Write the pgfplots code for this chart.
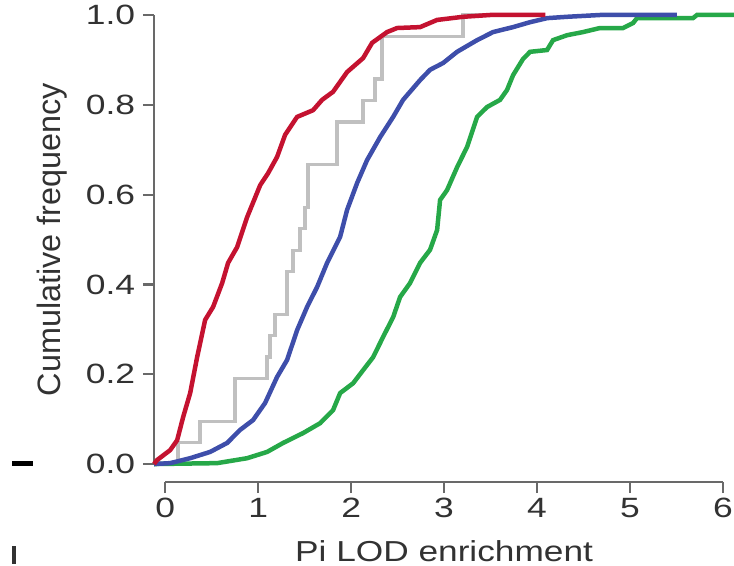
\documentclass[border=0pt]{standalone}
\usepackage{fontspec}
\setmainfont{Liberation Sans}
\usepackage{pgfplots}
\pgfplotsset{compat=1.18}
\definecolor{cred}{RGB}{196,18,48}
\definecolor{cblue}{RGB}{62,78,170}
\definecolor{cgreen}{RGB}{38,168,72}
\definecolor{cgray}{RGB}{192,192,192}
\definecolor{axgray}{RGB}{105,105,105}
\definecolor{txt}{RGB}{50,50,50}
\begin{document}
\begin{tikzpicture}
\begin{axis}[
  at={(0,0)}, anchor=south west,
  scale only axis, width=569bp, height=467bp,
  xmin=-0.12, xmax=6, ymin=-0.04, ymax=1,
  axis lines=left, axis line style={draw=none},
  clip=false,
  xtick={0,1,2,3,4,5,6},
  ytick={0,0.2,0.4,0.6,0.8,1.0},
  tick align=outside, major tick length=11bp,
  tick style={axgray, line width=2.2bp},
  /pgf/number format/assume math mode=true,
  ticklabel style={font=\fontsize{28}{30}\selectfont, text=txt, inner sep=0pt, xscale=1.27},
  xticklabel style={anchor=north, yshift=-5bp},
  yticklabel style={anchor=east, xshift=-6bp,
    /pgf/number format/.cd, fixed, fixed zerofill, precision=1},
]
% axis lines (range frame)
\draw[axgray, line width=2.2bp] (axis cs:-0.12,0) -- (axis cs:-0.12,1);
\draw[axgray, line width=2.2bp] (axis cs:0,-0.04) -- (axis cs:6,-0.04);

% gray step curve
\addplot[const plot, cgray, line width=3.5bp] coordinates {
(-0.12,0) (0.14,0.0476) (0.376,0.095) (0.753,0.190) (1.097,0.238) (1.129,0.286)
(1.183,0.333) (1.312,0.429) (1.376,0.476) (1.452,0.524) (1.505,0.571) (1.538,0.667)
(1.849,0.762) (2.129,0.810) (2.258,0.857) (2.333,0.952) (3.204,1.0) (3.5,1.0)
};

% green
\addplot[cgreen, line width=4.5bp] coordinates {
(-0.12,0) (0.559,0.002) (0.882,0.013) (1.097,0.027) (1.269,0.047) (1.484,0.069)
(1.667,0.091) (1.806,0.120) (1.882,0.158) (2.022,0.180) (2.129,0.209) (2.237,0.238)
(2.344,0.283) (2.452,0.327) (2.527,0.372) (2.634,0.403) (2.742,0.448) (2.849,0.477)
(2.925,0.521) (2.957,0.588) (3.032,0.610) (3.140,0.661) (3.247,0.706) (3.355,0.773)
(3.462,0.795) (3.602,0.811) (3.677,0.833) (3.742,0.866) (3.849,0.902) (3.925,0.918)
(4.108,0.922) (4.172,0.944) (4.323,0.955) (4.495,0.962) (4.677,0.971) (4.925,0.971)
(5.032,0.982) (5.075,0.993) (5.677,0.993) (5.720,1.0) (6.118,1.0)
};

% blue
\addplot[cblue, line width=4.5bp] coordinates {
(-0.12,0) (0.054,0.002) (0.269,0.013) (0.484,0.027) (0.667,0.047) (0.806,0.076)
(0.946,0.098) (1.075,0.136) (1.204,0.194) (1.312,0.232) (1.419,0.298) (1.527,0.350)
(1.634,0.394) (1.742,0.448) (1.882,0.506) (1.957,0.566) (2.065,0.626) (2.172,0.677)
(2.312,0.728) (2.452,0.773) (2.559,0.811) (2.742,0.855) (2.849,0.878) (2.989,0.893)
(3.140,0.918) (3.355,0.944) (3.527,0.962) (3.742,0.973) (3.925,0.984) (4.108,0.993)
(4.323,0.996) (4.677,1.0) (5.505,1.0)
};

% red
\addplot[cred, line width=4.5bp] coordinates {
(-0.12,0) (-0.086,0.009) (0.054,0.031) (0.129,0.053) (0.194,0.105) (0.269,0.158)
(0.344,0.238) (0.430,0.321) (0.516,0.350) (0.613,0.403) (0.677,0.448) (0.774,0.483)
(0.882,0.550) (1.022,0.621) (1.108,0.648) (1.204,0.684) (1.290,0.733) (1.419,0.773)
(1.591,0.788) (1.688,0.811) (1.806,0.829) (1.957,0.873) (2.129,0.904) (2.226,0.938)
(2.387,0.962) (2.495,0.971) (2.742,0.973) (2.925,0.989) (3.204,0.996) (3.495,1.0)
(4.09,1.0)
};

% labels
\node[anchor=base, font=\fontsize{29}{32}\selectfont, text=txt, xscale=1.22, inner sep=0pt]
  at (axis cs:3,-0.04) [yshift=-79bp] {Pi LOD enrichment};
\node[rotate=90, anchor=center, font=\fontsize{32.5}{34}\selectfont, text=txt, inner sep=0pt]
  at (axis cs:-1.217,0.5) {Cumulative frequency};

% fragments of the neighbouring panel
\draw[black, line width=5bp] (axis cs:-1.647,0.002) -- (axis cs:-1.421,0.002);
\draw[txt, line width=3.5bp] (axis cs:-1.625,-0.183) -- (axis cs:-1.625,-0.222);
\end{axis}
\pgfresetboundingbox
\path[use as bounding box] (-154bp,-84bp) rectangle (580bp,482bp);
\end{tikzpicture}
\end{document}
